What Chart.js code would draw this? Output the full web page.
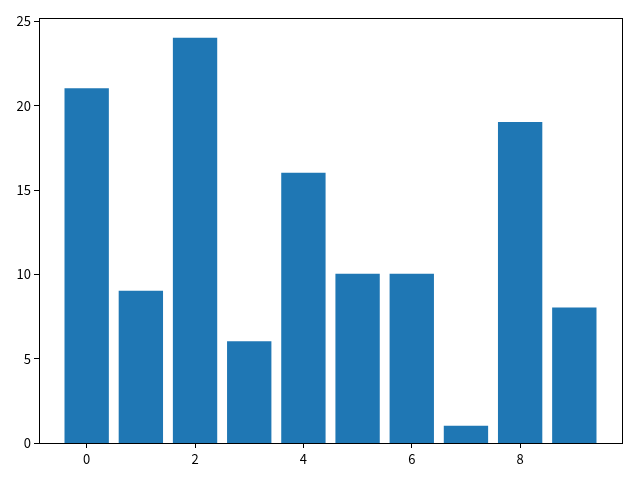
<!DOCTYPE html>
<html><head><meta charset="utf-8">
<script src="https://cdn.jsdelivr.net/npm/chart.js@4"></script>
<style>html,body{margin:0;padding:0;background:#fff}#wrap{width:640px;height:480px}</style>
</head><body><div id="wrap"><canvas id="c" width="640" height="480"></canvas></div>
<script>
const categories = [0, 1, 2, 3, 4, 5, 6, 7, 8, 9];
const values = [21, 9, 24, 6, 16, 10, 10, 1, 19, 8];
const xTicks = [0, 2, 4, 6, 8];
const yTicks = [0, 5, 10, 15, 20, 25];

const frame = {
  id: 'frame',
  afterDraw(chart) {
    const a = chart.chartArea, ctx = chart.ctx;
    ctx.save();
    ctx.strokeStyle = '#000';
    ctx.lineWidth = 1;
    ctx.strokeRect(Math.round(a.left) + 0.5, Math.round(a.top) + 0.5, Math.round(a.right - a.left), Math.round(a.bottom - a.top));
    ctx.restore();
  }
};

const font = { family: "'Noto Sans CJK SC', 'DejaVu Sans', sans-serif", size: 13 };

new Chart(document.getElementById('c'), {
  type: 'bar',
  data: {
    datasets: [{
      data: categories.map((c, i) => ({ x: c, y: values[i] })),
      backgroundColor: '#1f77b4',
      borderColor: '#1f77b4',
      borderWidth: 0,
      inflateAmount: 0.5,
      barPercentage: 0.8,
      categoryPercentage: 1.0
    }]
  },
  options: {
    responsive: false,
    animation: false,
    events: [],
    layout: { padding: { left: 0, right: 18, top: 18, bottom: 0 } },
    plugins: { legend: { display: false }, tooltip: { enabled: false } },
    scales: {
      x: {
        type: 'linear',
        offset: false,
        min: -0.88, max: 9.88,
        afterBuildTicks(s) { s.ticks = xTicks.map(v => ({ value: v })); },
        afterFit(s) { s.height = 37; },
        grid: { offset: false, drawOnChartArea: false, drawTicks: true, tickLength: 5, color: '#000' },
        border: { display: true, color: '#000' },
        ticks: { color: '#000', font: font, padding: 3, maxRotation: 0 }
      },
      y: {
        min: 0, max: 25.2,
        afterBuildTicks(s) { s.ticks = yTicks.map(v => ({ value: v })); },
        afterFit(s) { s.width = 39; },
        grid: { drawOnChartArea: false, drawTicks: true, tickLength: 5, color: '#000' },
        border: { display: true, color: '#000' },
        ticks: { color: '#000', font: font, padding: 3 }
      }
    }
  },
  plugins: [frame]
});
</script></body></html>
